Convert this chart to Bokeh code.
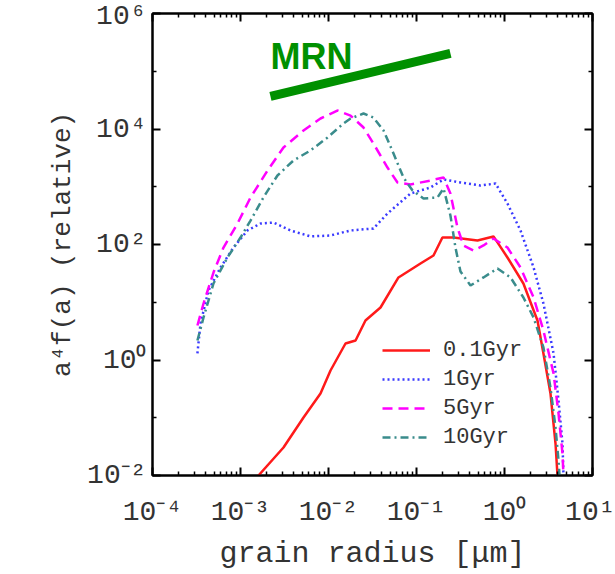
from bokeh.plotting import figure
from bokeh.models import Range1d, LogAxis, FixedTicker, Legend, LegendItem
from bokeh.core.properties import value
from bokeh.embed import file_html
from bokeh.resources import INLINE

# ---- data ----
a_01 = [1.0e-3, 1.60e-3, 3.08e-3, 5.20e-3, 8.11e-3, 1.054e-2, 1.56e-2, 2.03e-2, 2.63e-2,
        3.90e-2, 6.24e-2, 0.111, 0.156, 0.197, 0.263, 0.493, 0.750, 1.08, 1.64, 2.37,
        2.77, 3.33, 3.80, 4.00, 4.17]
f_01 = [4.5e-3, 1.0e-2, 3.05e-2, 0.101, 0.263, 0.658, 1.93, 2.18, 4.83,
        8.11, 26.9, 46.9, 64.6, 132, 132, 117, 138, 59.6, 21.1, 4.83,
        1.30, 0.263, 0.0358, 0.010, 3.2e-3]

a_1 = [3.24e-4, 3.51e-4, 4.33e-4, 5.93e-4, 8.32e-4, 1.20e-3, 1.69e-3, 2.37e-3, 3.70e-3,
       6.24e-3, 1.05e-2, 1.78e-2, 3.24e-2, 4.68e-2, 8.55e-2, 0.144, 0.203, 0.316, 0.533,
       0.791, 1.08, 1.52, 2.14, 2.77, 3.61, 4.11, 4.56, 4.68, 4.8]
f_1 = [1.30, 4.29, 16.0, 40.0, 88.7, 175, 231, 240, 175,
       138, 143, 175, 189, 344, 764, 971, 1336, 1185, 1052,
       1138, 513, 175, 40.0, 9.51, 1.30, 0.199, 0.0358, 0.010, 3.0e-3]

a_5 = [3.24e-4, 3.80e-4, 4.93e-4, 6.41e-4, 9.25e-4, 1.30e-3, 2.03e-3, 3.08e-3, 5.20e-3,
       8.11e-3, 1.26e-2, 1.78e-2, 2.50e-2, 3.24e-2, 4.68e-2, 6.08e-2, 8.55e-2, 0.144,
       0.203, 0.243, 0.292, 0.342, 0.445, 0.577, 0.750, 1.08, 1.52, 2.14, 2.77, 3.61,
       4.11, 4.56, 4.68, 4.84]
f_5 = [3.96, 9.51, 32.7, 88.7, 231, 651, 1910, 4786, 9419,
       15200, 20900, 17100, 10600, 5610, 2150, 1185, 1094, 1282,
       1445, 764, 197, 96.2, 78.7, 96.2, 127, 88.7, 40.0, 12.1, 3.24, 0.583,
       0.119, 0.0240, 0.010, 3.0e-3]

a_10 = [3.24e-4, 3.80e-4, 4.93e-4, 7.11e-4, 1.00e-3, 1.30e-3, 1.82e-3, 2.63e-3, 4.00e-3,
        6.24e-3, 9.75e-3, 1.48e-2, 1.78e-2, 2.50e-2, 3.24e-2, 4.22e-2, 5.48e-2, 7.11e-2,
        9.02e-2, 0.120, 0.173, 0.203, 0.243, 0.277, 0.316, 0.411, 0.577, 0.832, 1.17,
        1.64, 2.14, 2.77, 3.33, 3.80, 4.11, 4.22, 4.44]
f_10 = [2.18, 5.44, 21.1, 59.6, 132, 260, 651, 1566, 2849,
        4244, 7125, 12450, 15200, 18540, 15800, 9419, 3767, 1445,
        861, 627, 651, 933, 318, 88.7, 34.1, 19.5, 26.9, 38.4, 26.9,
        12.1, 5.44, 1.65, 0.334, 0.0678, 0.0182, 0.010, 3.0e-3]

mrn_a = [2.19e-3, 0.243]
mrn_f = [3.66e4, 2.03e5]
mrn_label_a = [2.19e-3]
mrn_label_f = [1.80e5]
mrn_label = ["MRN"]

series_labels = ["0.1Gyr", "1Gyr", "5Gyr", "10Gyr"]

x_tick_vals = [1e-4, 1e-3, 1e-2, 1e-1, 1e0, 1e1]
x_tick_labels = ["10⁻⁴", "10⁻³", "10⁻²", "10⁻¹", "10⁰", "10¹"]
y_tick_vals = [1e-2, 1e0, 1e2, 1e4, 1e6]
y_tick_labels = ["10⁻²", "10⁰", "10²", "10⁴", "10⁶"]
y_minor_vals = [1e-1, 1e1, 1e3, 1e5]

x_minor_vals = [m * 10.0 ** e for e in range(-4, 1) for m in range(2, 10)]

FONT = "Liberation Mono"
TXT = "#333333"

p = figure(width=615, height=574, x_axis_type="log", y_axis_type="log",
           x_range=Range1d(1e-4, 1e1), y_range=Range1d(1e-2, 1e6),
           output_backend="svg", toolbar_location=None,
           min_border_left=152, min_border_right=23, min_border_top=13,
           min_border_bottom=99)
p.xgrid.visible = False
p.ygrid.visible = False
p.outline_line_color = "black"
p.outline_line_width = 2
p.background_fill_color = "white"
p.border_fill_color = "white"

xt = FixedTicker(ticks=x_tick_vals, minor_ticks=x_minor_vals)
yt = FixedTicker(ticks=y_tick_vals, minor_ticks=y_minor_vals)


def style_axis(ax, show_labels):
    ax.axis_line_color = "black"
    ax.axis_line_width = 2
    ax.major_tick_in = 8
    ax.major_tick_out = 0
    ax.minor_tick_in = 4
    ax.minor_tick_out = 0
    ax.major_tick_line_color = "black"
    ax.major_tick_line_width = 2
    ax.minor_tick_line_color = "black"
    ax.minor_tick_line_width = 1.5
    ax.major_label_text_font = FONT
    ax.major_label_text_color = TXT
    ax.axis_label_text_font = FONT
    ax.axis_label_text_color = TXT
    ax.axis_label_text_font_style = "normal"
    if not show_labels:
        ax.major_label_text_font_size = "0px"
        ax.major_label_standoff = 0


xa = p.xaxis[0]
xa.ticker = xt
style_axis(xa, True)
xa.major_label_overrides = dict(zip(x_tick_vals, x_tick_labels))
xa.major_label_text_font_size = "28px"
xa.major_label_standoff = 21
xa.axis_label = "grain radius [μm]"
xa.axis_label_text_font_size = "30px"
xa.axis_label_standoff = 6

ya = p.yaxis[0]
ya.ticker = yt
style_axis(ya, True)
ya.major_label_overrides = dict(zip(y_tick_vals, y_tick_labels))
ya.major_label_text_font_size = "28px"
ya.major_label_standoff = 6
ya.axis_label = "a⁴f(a) (relative)"
ya.axis_label_text_font_size = "26px"
ya.axis_label_standoff = 6

top = LogAxis(ticker=FixedTicker(ticks=x_tick_vals, minor_ticks=x_minor_vals))
style_axis(top, False)
top.major_label_overrides = {v: "" for v in x_tick_vals}
p.add_layout(top, "above")

right = LogAxis(ticker=FixedTicker(ticks=y_tick_vals, minor_ticks=y_minor_vals))
style_axis(right, False)
right.major_label_overrides = {v: "" for v in y_tick_vals}
p.add_layout(right, "right")

# ---- curves ----
r0 = p.line(a_01, f_01, line_color="#ff1a1a", line_width=2.5)
r1 = p.line(a_1, f_1, line_color="#3a3aff", line_width=2.5, line_dash="2 3")
r2 = p.line(a_5, f_5, line_color="#ff00ff", line_width=2.5, line_dash="10 6")
r3 = p.line(a_10, f_10, line_color="#3a8c8c", line_width=2.5, line_dash="8 4 2 4")

# MRN slope
p.line(mrn_a, mrn_f, line_color="#009000", line_width=9, line_cap="butt")
p.text(x=mrn_label_a, y=mrn_label_f, text=mrn_label, text_color="#009000",
       text_font=value("Liberation Sans"), text_font_style="bold",
       text_font_size="36px", text_baseline="alphabetic", text_align="left")

legend = Legend(items=[LegendItem(label=l, renderers=[r]) for l, r in
                       zip(series_labels, [r0, r1, r2, r3])],
                location=(230, 25), padding=0, margin=0, spacing=3,
                glyph_width=48, glyph_height=26, label_height=26,
                label_standoff=13, label_text_font=FONT,
                label_text_font_size="22px", label_text_color=TXT,
                border_line_alpha=0, background_fill_alpha=0)
p.add_layout(legend)

open("out.html", "w").write(file_html(p, INLINE))
